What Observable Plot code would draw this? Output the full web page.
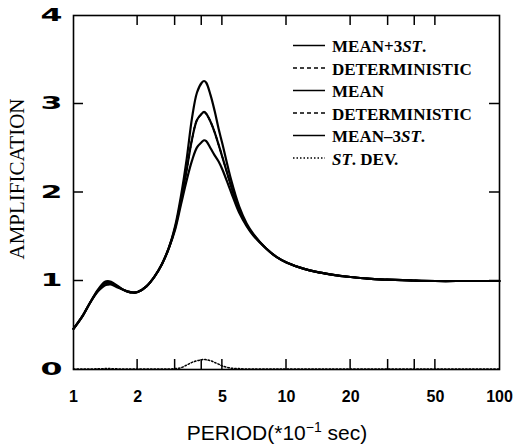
<!DOCTYPE html>
<html>
<head>
<meta charset="utf-8">
<script src="https://cdn.jsdelivr.net/npm/d3@7"></script>
<script src="https://cdn.jsdelivr.net/npm/@observablehq/plot@0.6"></script>
<style>
  html, body { margin: 0; padding: 0; background: #fff; }
  #chart { width: 521px; height: 446px; }
</style>
</head>
<body>
<div id="chart"></div>
<script>
// Period (*10^-1 sec)
const periods = [1,1.1,1.2,1.3,1.4,1.45,1.5,1.6,1.7,1.8,1.9,2,2.2,2.4,2.6,2.8,3,3.2,3.4,3.6,3.8,4,4.1,4.2,4.4,4.6,4.8,5,5.5,6,6.5,7,8,9,10,12,14,16,20,25,30,40,50,70,100];
const meanPlus3 = [0.46,0.60,0.76,0.90,0.99,1.00,0.99,0.95,0.905,0.88,0.87,0.875,0.94,1.05,1.19,1.37,1.62,1.97,2.38,2.84,3.13,3.24,3.26,3.24,3.10,2.92,2.72,2.55,2.14,1.84,1.65,1.53,1.37,1.27,1.21,1.14,1.10,1.075,1.045,1.025,1.015,1.005,1.0,1.0,1.0];
const deterministic1 = [0.46,0.60,0.76,0.89,0.97,0.98,0.975,0.94,0.905,0.88,0.87,0.875,0.94,1.05,1.19,1.37,1.60,1.92,2.26,2.60,2.82,2.89,2.91,2.89,2.80,2.68,2.54,2.40,2.07,1.80,1.63,1.52,1.37,1.27,1.21,1.14,1.10,1.075,1.045,1.025,1.015,1.005,1.0,1.0,1.0];
const mean = [0.46,0.60,0.76,0.89,0.97,0.98,0.975,0.94,0.905,0.88,0.87,0.875,0.94,1.05,1.19,1.37,1.60,1.92,2.26,2.60,2.82,2.89,2.91,2.89,2.80,2.68,2.54,2.40,2.07,1.80,1.63,1.52,1.37,1.27,1.21,1.14,1.10,1.075,1.045,1.025,1.015,1.005,1.0,1.0,1.0];
const deterministic2 = [0.46,0.60,0.76,0.89,0.97,0.98,0.975,0.94,0.905,0.88,0.87,0.875,0.94,1.05,1.19,1.37,1.60,1.92,2.26,2.60,2.82,2.89,2.91,2.89,2.80,2.68,2.54,2.40,2.07,1.80,1.63,1.52,1.37,1.27,1.21,1.14,1.10,1.075,1.045,1.025,1.015,1.005,1.0,1.0,1.0];
const meanMinus3 = [0.46,0.60,0.76,0.88,0.95,0.96,0.96,0.93,0.905,0.88,0.87,0.875,0.94,1.05,1.19,1.37,1.58,1.87,2.14,2.36,2.51,2.57,2.59,2.58,2.50,2.42,2.35,2.26,2.00,1.77,1.62,1.51,1.37,1.27,1.21,1.14,1.10,1.075,1.045,1.025,1.015,1.005,1.0,1.0,1.0];
const stDev = [0.005,0.005,0.005,0.008,0.01,0.01,0.01,0.008,0.005,0.005,0.005,0.005,0.005,0.005,0.005,0.005,0.01,0.02,0.05,0.08,0.10,0.11,0.115,0.11,0.10,0.08,0.06,0.04,0.015,0.01,0.005,0.005,0.005,0.005,0.005,0.005,0.005,0.005,0.005,0.005,0.005,0.005,0.005,0.005,0.005];

const xTickMarks = [2,3,4,5,10,20,30,40,50];
const xTickLabels = [1,2,5,10,20,50,100];
const yTickMarks = [1,2,3];
const yTickLabels = [0,1,2,3,4];
const legendLabels = ["MEAN+3ST.", "DETERMINISTIC", "MEAN", "DETERMINISTIC", "MEAN–3ST.", "ST. DEV."];
const xTitle = ["PERIOD(*10", "−1", " sec)"];
const yTitle = "AMPLIFICATION";

const series = [meanPlus3, deterministic1, mean, deterministic2, meanMinus3, stDev];
const dashes = [null, "4,3", null, "4,3", null, "1.5,2"];
const widths = [2.2, 1.5, 2.2, 1.5, 2.2, 1.5];

const toRows = (ys) => periods.map((p, i) => ({p, v: ys[i]}));

const lineMarks = series.map((s, k) => Plot.line(toRows(s), {
  x: "p", y: "v", curve: "catmull-rom", stroke: "black",
  strokeWidth: widths[k], strokeDasharray: dashes[k] || undefined
}));

const plot = Plot.plot({
  width: 521, height: 446,
  marginLeft: 73, marginRight: 22, marginTop: 15, marginBottom: 77,
  style: {fontFamily: "'Liberation Sans', Arial, sans-serif", background: "white", overflow: "visible"},
  x: {type: "log", domain: [1, 100]},
  y: {domain: [0, 4]},
  marks: [
    Plot.axisX({ticks: xTickLabels, tickFormat: d => String(d), tickSize: 0, tickPadding: 21,
      fontSize: 16, fontWeight: "bold", label: null}),
    Plot.axisY({ticks: yTickLabels, tickFormat: d => String(d), tickSize: 0, tickPadding: 11,
      fontSize: 17, fontWeight: "bold", label: null, fontFamily: "'DejaVu Sans', sans-serif"}),
    ...lineMarks,
    Plot.frame({stroke: "black", strokeWidth: 1.6})
  ]
});

document.getElementById("chart").appendChild(plot);
const svg = d3.select(plot);

// Plot's own x/y scales (with a d3 equivalent built from their domain/range as a fallback)
const sxo = plot.scale("x"), syo = plot.scale("y");
const fx = (sxo && typeof sxo.apply === "function" && isFinite(sxo.apply(2)))
  ? (v) => sxo.apply(v) : d3.scaleLog().domain(sxo.domain).range(sxo.range);
const fy = (syo && typeof syo.apply === "function" && isFinite(syo.apply(2)))
  ? (v) => syo.apply(v) : d3.scaleLinear().domain(syo.domain).range(syo.range);
const x0 = fx(1), x1 = fx(100), yBot = fy(0), yTop = fy(4);
const tickLen = 10;

// inward tick marks on all four sides
const tg = svg.append("g");
const addTick = (a, b, c, d) => tg.append("line")
  .attr("x1", a).attr("y1", b).attr("x2", c).attr("y2", d)
  .attr("stroke", "black").attr("stroke-width", 1.5);
xTickMarks.forEach(v => {
  const px = fx(v);
  addTick(px, yBot, px, yBot - tickLen);
  addTick(px, yTop, px, yTop + tickLen);
});
yTickMarks.forEach(v => {
  const py = fy(v);
  addTick(x0, py, x0 + tickLen, py);
  addTick(x1, py, x1 - tickLen, py);
});

// widen y tick labels (extended bold look)
svg.selectAll('g[aria-label="y-axis tick label"] text')
  .attr("textLength", 22).attr("lengthAdjust", "spacingAndGlyphs");

// x title
const xt = svg.append("text")
  .attr("x", 277).attr("y", 440).attr("text-anchor", "middle")
  .attr("font-family", "'Liberation Sans', Arial, sans-serif").attr("font-size", 21).attr("fill", "black");
xt.append("tspan").text(xTitle[0]);
xt.append("tspan").attr("font-size", 14).attr("dy", -8).text(xTitle[1]);
xt.append("tspan").attr("dy", 8).text(xTitle[2]);

// y title
svg.append("text")
  .attr("transform", "translate(24,179) rotate(-90)").attr("text-anchor", "middle")
  .attr("font-family", "'Liberation Serif', 'Times New Roman', serif").attr("font-size", 21).attr("fill", "black")
  .text(yTitle);

// legend
const lg = svg.append("g").attr("font-family", "'Liberation Serif', 'Times New Roman', serif")
  .attr("font-size", 17).attr("font-weight", "bold").attr("text-anchor", "start");
legendLabels.forEach((lab, i) => {
  const cy = 46.5 + i * 22.5;
  lg.append("line").attr("x1", 293).attr("x2", 325).attr("y1", cy - 1).attr("y2", cy - 1)
    .attr("stroke", "black").attr("stroke-width", dashes[i] ? 1.4 : 1.5)
    .attr("stroke-dasharray", dashes[i] || null);
  const t = lg.append("text").attr("x", 332).attr("y", cy + 5.5).attr("fill", "black")
    .attr("text-anchor", "start");
  const m = lab.match(/^(.*?)(ST)(\..*)$/);
  if (m) {
    t.append("tspan").text(m[1]);
    t.append("tspan").attr("font-style", "italic").text(m[2]);
    t.append("tspan").text(m[3]);
  } else {
    t.text(lab);
  }
});
</script>
</body>
</html>
